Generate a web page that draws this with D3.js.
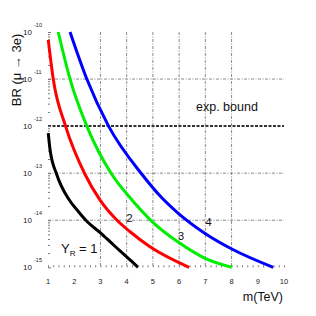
<!DOCTYPE html>
<html><head><meta charset="utf-8">
<script src="https://cdn.jsdelivr.net/npm/d3@7"></script>
<style>body{margin:0;background:#fff}svg{display:block}text{font-family:"Liberation Sans",Arial,Helvetica,sans-serif}</style>
</head><body><svg id="c" width="316" height="316"></svg>
<script>
// ---- data ----
const xTickLabels=["1","2","3","4","5","6","7","8","9","10"];
const xTicks=[1,2,3,4,5,6,7,8,9,10];
const yTicks=[1e-10,1e-11,1e-12,1e-13,1e-14,1e-15];
const yTickExp=["-10","-11","-12","-13","-14","-15"];
const gridX=[3,4,5,6,7,8];
const gridY=[1e-11,1e-13,1e-14];
const expBound=1e-12;
const seriesLabels=["1","2","3","4"];
const mass1=[1.01,1.08,1.33,1.80,2.15,2.48,3.0,3.5,4.13,4.43];
const br1=[7.1e-13,3.1e-13,9.5e-14,2.75e-14,1.55e-14,9.5e-15,5.4e-15,2.98e-15,1.44e-15,1.0e-15];
const mass2=[1.01,1.20,1.67,2.41,2.98,3.67,4.13,4.89,6.38];
const br2=[6.8e-11,1.0e-11,1.0e-12,9.5e-14,2.7e-14,9.5e-15,5.7e-15,2.73e-15,1.0e-15];
const mass3=[1.39,1.84,2.48,3.43,4.13,4.96,5.99,6.99,8.01];
const br3=[1.0e-10,1.0e-11,1.0e-12,9.5e-14,3.0e-14,9.5e-15,3.35e-15,1.55e-15,1.0e-15];
const mass4=[1.84,2.48,3.31,4.58,5.34,5.99,6.99,8.01,9.59];
const br4=[1.0e-10,1.0e-11,1.0e-12,9.5e-14,3.0e-14,1.37e-14,5.25e-15,2.45e-15,1.0e-15];

// ---- drawing ----
const svg=d3.select("#c");
const x=d3.scaleLinear().domain([1,10]).range([48,284]);
const y=d3.scaleLog().domain([1e-15,1e-10]).range([267.3,32]);
const X0=x(1),X1=x(10),Y0=y(1e-15),Y1=y(1e-10);

// grid
svg.append("g").selectAll("line").data(gridX).join("line")
  .attr("x1",d=>x(d)).attr("x2",d=>x(d)).attr("y1",Y1).attr("y2",Y0)
  .attr("stroke","#8a8a8a").attr("stroke-width",1).attr("stroke-dasharray","3,1.5,1,1.5");
svg.append("g").selectAll("line").data(gridY).join("line")
  .attr("x1",X0).attr("x2",X1).attr("y1",d=>y(d)).attr("y2",d=>y(d))
  .attr("stroke","#8a8a8a").attr("stroke-width",1).attr("stroke-dasharray","3,1.5,1,1.5");
svg.append("line").attr("x1",X0).attr("x2",X1).attr("y1",y(expBound)).attr("y2",y(expBound))
  .attr("stroke","#333").attr("stroke-width",2).attr("stroke-dasharray","3,1.5");

// minor ticks left
const yMinor=[];
for(let e=-15;e<-10;e++){for(let k=2;k<=9;k++)yMinor.push(k*Math.pow(10,e));}
svg.append("g").attr("transform",`translate(${X0},0)`)
  .call(d3.axisRight(y).tickValues(yMinor).tickSize(2).tickFormat(""))
  .call(g=>g.select(".domain").remove())
  .call(g=>g.selectAll("line").attr("stroke","#777"));
svg.append("g").attr("transform",`translate(${X0},0)`)
  .call(d3.axisRight(y).tickValues(yTicks).tickSize(3).tickFormat(""))
  .call(g=>g.select(".domain").remove())
  .call(g=>g.selectAll("line").attr("stroke","#777"));
// minor ticks bottom
const xMinor=d3.range(1,10.01,0.2);
svg.append("g").attr("transform",`translate(0,${Y0})`)
  .call(d3.axisTop(x).tickValues(xMinor).tickSize(2).tickFormat(""))
  .call(g=>g.select(".domain").remove())
  .call(g=>g.selectAll("line").attr("stroke","#777"));

// x tick labels
svg.append("g").selectAll("text").data(xTicks).join("text")
  .attr("x",d=>x(d)).attr("y",284).attr("text-anchor","middle")
  .attr("font-size",7.5).attr("fill","#222").text((d,i)=>xTickLabels[i]);
// y tick labels
const yl=svg.append("g").selectAll("g").data(yTicks).join("g");
yl.append("text").attr("x",32).attr("y",d=>y(d)+3).attr("text-anchor","end")
  .attr("font-size",8).attr("fill","#222").text("10");
yl.append("text").attr("x",34).attr("y",d=>y(d)-5).attr("text-anchor","start")
  .attr("font-size",5.5).attr("fill","#222").text((d,i)=>yTickExp[i]);

// curves
const series=[[mass1,br1,"#000"],[mass2,br2,"#ff0000"],[mass3,br3,"#00ee00"],[mass4,br4,"#0000ff"]];
const line=d3.line().x(d=>x(d[0])).y(d=>y(d[1])).curve(d3.curveMonotoneX);
svg.append("g").selectAll("path").data(series).join("path")
  .attr("d",s=>line(s[0].map((m,i)=>[m,s[1][i]])))
  .attr("fill","none").attr("stroke",s=>s[2]).attr("stroke-width",3);

// labels
svg.append("text").attr("transform","translate(21,70) rotate(-90)").attr("text-anchor","middle")
  .attr("font-size",13).attr("fill","#111").text("BR (\u03bc \u2192 3e)");
svg.append("text").attr("x",283).attr("y",301).attr("text-anchor","end")
  .attr("font-size",12.5).attr("fill","#111").text("m(TeV)");
svg.append("text").attr("x",196).attr("y",111)
  .attr("font-size",12.5).attr("fill","#111").text("exp. bound");
const yr=svg.append("text").attr("x",61).attr("y",253).attr("font-size",13).attr("fill","#111");
yr.append("tspan").text("Y");
yr.append("tspan").attr("font-size",8).attr("dy",3).text("R");
yr.append("tspan").attr("dy",-3).text(" = "+seriesLabels[0]);
svg.append("text").attr("x",126.5).attr("y",222).attr("font-size",11).attr("fill","#111").text(seriesLabels[1]);
svg.append("text").attr("x",178).attr("y",240).attr("font-size",11).attr("fill","#111").text(seriesLabels[2]);
svg.append("text").attr("x",205.5).attr("y",226).attr("font-size",11).attr("fill","#111").text(seriesLabels[3]);
</script></body></html>
